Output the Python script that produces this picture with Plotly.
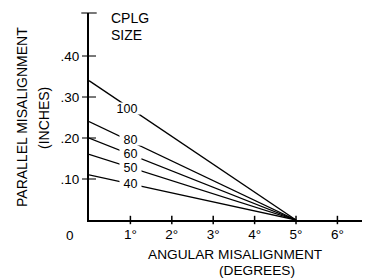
import plotly.graph_objects as go

# Data
sizes = ["100", "80", "60", "50", "40"]
parallel_at_zero = [0.34, 0.24, 0.20, 0.16, 0.11]   # inches at 0 degrees
angular_max = [5, 5, 5, 5, 5]                        # degrees at zero parallel
label_x = [0.91, 1.0, 1.0, 1.0, 1.0]
label_shift = [-3, 2, 1, 0, 0]
x_ticks = [1, 2, 3, 4, 5, 6]
x_ticktext = ["1°", "2°", "3°", "4°", "5°", "6°"]
y_ticks = [0.10, 0.20, 0.30, 0.40]
y_ticktext = [".10", ".20", ".30", ".40"]

OFF = 8  # page body margin
W, H = 370 - OFF, 279 - OFF
L, R, T, B = 89 - OFF, 0, 13 - OFF, 59
XR = [0, 6.787]
YR = [0, 0.5049]
FONT = "Liberation Sans, Arial, sans-serif"

fig = go.Figure()

for s, y0, xm in zip(sizes, parallel_at_zero, angular_max):
    fig.add_trace(go.Scatter(x=[0, xm], y=[y0, 0], mode="lines",
                             line=dict(color="black", width=1.3),
                             showlegend=False, hoverinfo="skip", cliponaxis=False))

# crossing tick marks
fig.add_trace(go.Scatter(x=x_ticks, y=[0] * len(x_ticks), mode="markers",
                         marker=dict(symbol="line-ns", size=6,
                                     line=dict(color="black", width=1.5)),
                         showlegend=False, hoverinfo="skip", cliponaxis=False))
fig.add_trace(go.Scatter(x=[0] * len(y_ticks) + [0], y=y_ticks + [YR[1]], mode="markers",
                         marker=dict(symbol="line-ew", size=[10, 10, 10, 10, 11],
                                     line=dict(color="black", width=1.5)),
                         showlegend=False, hoverinfo="skip", cliponaxis=False))

ann = []
for s, y0, xm, lx, sh in zip(sizes, parallel_at_zero, angular_max, label_x, label_shift):
    ly = y0 * (1 - lx / xm)
    ann.append(dict(x=lx, y=ly, xref="x", yref="y", text=s, showarrow=False,
                    yshift=sh,
                    font=dict(size=12.5, color="black", family=FONT),
                    bgcolor="white", borderpad=0,
                    width=26 if len(s) == 3 else 21, height=11))

def px2p(px):
    return (px - OFF - L) / (W - L - R)

def py2p(py):
    return (H - B - (py - OFF)) / (H - B - T)

def note(px, py, text, size=14, angle=0, xanchor="center"):
    return dict(x=px2p(px), y=py2p(py), xref="paper", yref="paper", text=text,
                xanchor=xanchor, yanchor="middle", textangle=angle,
                showarrow=False, font=dict(size=size, color="black", family=FONT))

ann += [
    note(109, 18, "CPLG", xanchor="left"),
    note(109, 35, "SIZE", xanchor="left"),
    note(70, 235, "0", size=13.5),
    note(235, 254, "ANGULAR MISALIGNMENT", size=13.7),
    note(257, 270, "(DEGREES)", size=13.7),
    note(22, 117, "PARALLEL MISALIGNMENT", angle=-90),
    note(44, 118, "(INCHES)", angle=-90),
]

fig.update_layout(
    width=W, height=H,
    margin=dict(l=L, r=R, t=T, b=B, pad=0, autoexpand=False),
    paper_bgcolor="white", plot_bgcolor="white",
    font=dict(family=FONT, size=13.5, color="black"),
    annotations=ann,
    xaxis=dict(range=XR, showgrid=False, zeroline=False, showline=True,
               linecolor="black", linewidth=1.8, tickmode="array",
               tickvals=x_ticks, ticktext=x_ticktext, ticks="", automargin=False,
               ticklabelstandoff=1, tickfont=dict(size=13.5)),
    yaxis=dict(range=YR, showgrid=False, zeroline=False, showline=True,
               linecolor="black", linewidth=1.8, tickmode="array",
               tickvals=y_ticks, ticktext=y_ticktext, ticks="", automargin=False,
               ticklabelstandoff=5, tickfont=dict(size=13.5)),
)

fig.write_html("out.html")
